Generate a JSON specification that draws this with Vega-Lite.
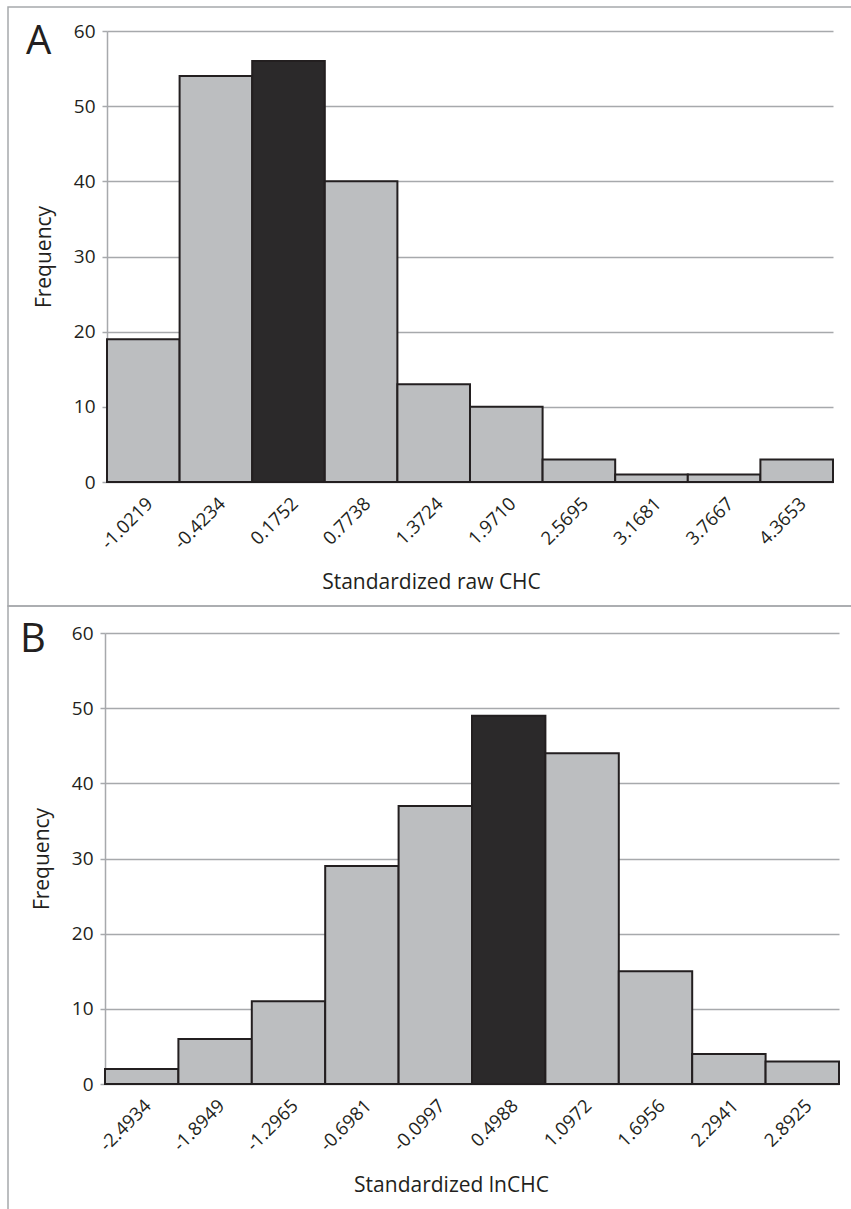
{
  "$schema": "https://vega.github.io/schema/vega-lite/v6.json",
  "padding": {"left": 7, "top": 6, "right": 0, "bottom": 0},
  "bounds": "flush",
  "spacing": 0,
  "background": "white",
  "datasets": {
    "rawCHC": [
      {"bin": "-1.0219", "frequency": 19, "highlight": "no"},
      {"bin": "-0.4234", "frequency": 54, "highlight": "no"},
      {"bin": "0.1752", "frequency": 56, "highlight": "yes"},
      {"bin": "0.7738", "frequency": 40, "highlight": "no"},
      {"bin": "1.3724", "frequency": 13, "highlight": "no"},
      {"bin": "1.9710", "frequency": 10, "highlight": "no"},
      {"bin": "2.5695", "frequency": 3, "highlight": "no"},
      {"bin": "3.1681", "frequency": 1, "highlight": "no"},
      {"bin": "3.7667", "frequency": 1, "highlight": "no"},
      {"bin": "4.3653", "frequency": 3, "highlight": "no"}
    ],
    "lnCHC": [
      {"bin": "-2.4934", "frequency": 2, "highlight": "no"},
      {"bin": "-1.8949", "frequency": 6, "highlight": "no"},
      {"bin": "-1.2965", "frequency": 11, "highlight": "no"},
      {"bin": "-0.6981", "frequency": 29, "highlight": "no"},
      {"bin": "-0.0997", "frequency": 37, "highlight": "no"},
      {"bin": "0.4988", "frequency": 49, "highlight": "yes"},
      {"bin": "1.0972", "frequency": 44, "highlight": "no"},
      {"bin": "1.6956", "frequency": 15, "highlight": "no"},
      {"bin": "2.2941", "frequency": 4, "highlight": "no"},
      {"bin": "2.8925", "frequency": 3, "highlight": "no"}
    ]
  },
  "vconcat": [
    {
      "width": 845,
      "height": 599,
      "title": {"text": "A", "orient": "top", "anchor": "start", "frame": "group", "offset": -87, "dx": 18, "fontSize": 40, "font": "Open Sans", "fontWeight": "normal", "baseline": "alphabetic", "color": "#231F20"},
      "data": {"name": "rawCHC"},
      "mark": {"type": "bar", "stroke": "#231F20", "strokeWidth": 2},
      "encoding": {
        "x": {
          "field": "bin", "type": "nominal", "sort": null,
          "scale": {"range": [99, 825], "paddingInner": 0, "paddingOuter": 0},
          "axis": {"offset": -124, "labelAngle": -45, "labelPadding": 12, "ticks": false, "tickSize": 0, "domain": false, "grid": false, "labelFontSize": 18.5, "labelColor": "#231F20", "title": "Standardized raw CHC", "titleX": 423, "titleY": 106, "titleBaseline": "alphabetic", "titleFontSize": 21, "titleFontWeight": "normal", "titleColor": "#231F20"}
        },
        "y": {
          "field": "frequency", "type": "quantitative",
          "scale": {"domain": [0, 60], "range": [475, 24], "nice": false, "zero": true},
          "axis": {"offset": -99, "values": [0, 10, 20, 30, 40, 50, 60], "tickSize": 5, "tickColor": "#A7A9AC", "tickWidth": 1.5, "domainColor": "#A7A9AC", "domainWidth": 1.5, "grid": true, "gridColor": "#A7A9AC", "gridWidth": 1.5, "labelFontSize": 19, "labelPadding": 7, "labelColor": "#231F20", "title": "Frequency", "titleFontSize": 21, "titleFontWeight": "normal", "titlePadding": 19, "titleColor": "#231F20"}
        },
        "color": {"field": "highlight", "type": "nominal", "scale": {"domain": ["no", "yes"], "range": ["#BCBEC0", "#2B292A"]}, "legend": null}
      }
    },
    {
      "width": 845,
      "height": 605,
      "title": {"text": "B", "orient": "top", "anchor": "start", "frame": "group", "offset": -86, "dx": 12, "fontSize": 40, "font": "Open Sans", "fontWeight": "normal", "baseline": "alphabetic", "color": "#231F20"},
      "data": {"name": "lnCHC"},
      "mark": {"type": "bar", "stroke": "#231F20", "strokeWidth": 2},
      "encoding": {
        "x": {
          "field": "bin", "type": "nominal", "sort": null,
          "scale": {"range": [97, 831], "paddingInner": 0, "paddingOuter": 0},
          "axis": {"offset": -127, "labelAngle": -45, "labelPadding": 12, "ticks": false, "tickSize": 0, "domain": false, "grid": false, "labelFontSize": 18.5, "labelColor": "#231F20", "title": "Standardized lnCHC", "titleX": 443, "titleY": 107, "titleBaseline": "alphabetic", "titleFontSize": 21, "titleFontWeight": "normal", "titleColor": "#231F20"}
        },
        "y": {
          "field": "frequency", "type": "quantitative",
          "scale": {"domain": [0, 60], "range": [478, 27], "nice": false, "zero": true},
          "axis": {"offset": -97, "values": [0, 10, 20, 30, 40, 50, 60], "tickSize": 5, "tickColor": "#A7A9AC", "tickWidth": 1.5, "domainColor": "#A7A9AC", "domainWidth": 1.5, "grid": true, "gridColor": "#A7A9AC", "gridWidth": 1.5, "labelFontSize": 19, "labelPadding": 7, "labelColor": "#231F20", "title": "Frequency", "titleFontSize": 21, "titleFontWeight": "normal", "titlePadding": 19, "titleColor": "#231F20"}
        },
        "color": {"field": "highlight", "type": "nominal", "scale": {"domain": ["no", "yes"], "range": ["#BCBEC0", "#2B292A"]}, "legend": null}
      }
    }
  ],
  "config": {
    "font": "Open Sans",
    "view": {"stroke": "#A7A9AC", "strokeWidth": 1.5},
    "axis": {"labelFont": "Open Sans", "titleFont": "Open Sans"}
  }
}
